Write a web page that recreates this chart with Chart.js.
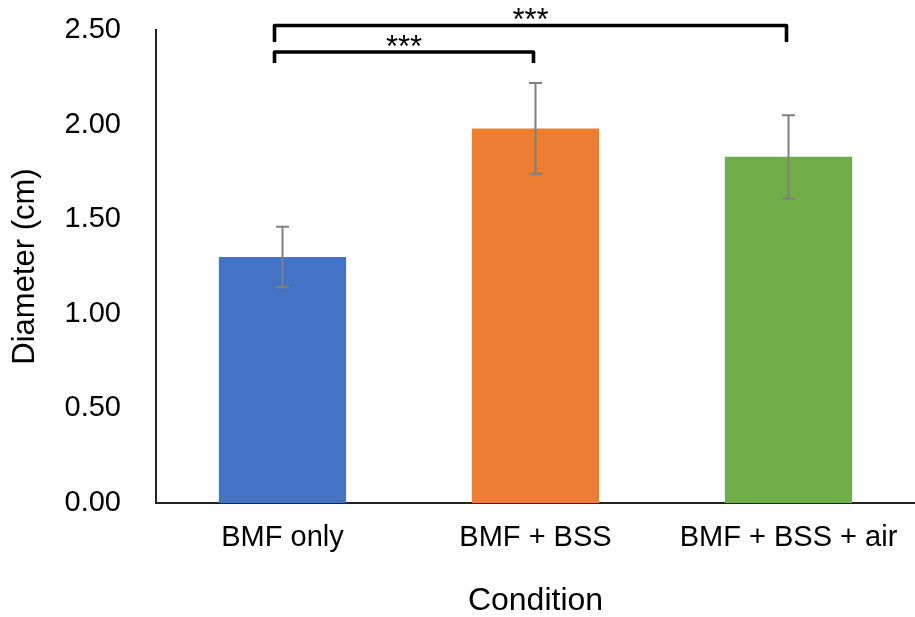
<!DOCTYPE html>
<html>
<head>
<meta charset="utf-8">
<script src="https://cdn.jsdelivr.net/npm/chart.js@4.4.1/dist/chart.umd.min.js"></script>
<style>
  html, body { margin: 0; padding: 0; background: #fff; overflow: hidden; }
  #wrap { width: 915px; height: 617px; position: relative; }
</style>
</head>
<body>
<div id="wrap"><canvas id="c" width="915" height="617"></canvas></div>
<script>
// ---- data ----
const categories = ['BMF only', 'BMF + BSS', 'BMF + BSS + air'];
const means = [1.30, 1.98, 1.83];
const errors = [0.16, 0.24, 0.22];
const barColors = ['#4472C4', '#ED7D31', '#70AD47'];
const yTicks = [0, 0.5, 1.0, 1.5, 2.0, 2.5];
// significance brackets: [fromIndex, toIndex]
const bracketPairs = [[0, 1], [0, 2]];
const bracketTops = [2.384, 2.524];
const bracketLegs = [2.326, 2.437];
const bracketLabels = ['***', '***'];

const FONT = "'Liberation Sans', Arial, Helvetica, sans-serif";
Chart.defaults.font.family = FONT;
Chart.defaults.color = '#000';

const errorBarPlugin = {
  id: 'errorBars',
  afterDatasetsDraw(chart) {
    const ctx = chart.ctx;
    const meta = chart.getDatasetMeta(0);
    const y = chart.scales.y;
    ctx.save();
    ctx.strokeStyle = '#808080';
    ctx.lineWidth = 2;
    meta.data.forEach((bar, i) => {
      const x = bar.x;
      const yt = y.getPixelForValue(means[i] + errors[i]);
      const yb = y.getPixelForValue(means[i] - errors[i]);
      const cap = 6.5;
      ctx.beginPath();
      ctx.moveTo(x, yt); ctx.lineTo(x, yb);
      ctx.moveTo(x - cap, yt); ctx.lineTo(x + cap, yt);
      ctx.moveTo(x - cap, yb); ctx.lineTo(x + cap, yb);
      ctx.stroke();
    });
    ctx.restore();
  }
};

const bracketPlugin = {
  id: 'brackets',
  afterDraw(chart) {
    const ctx = chart.ctx;
    const xs = chart.scales.x, ys = chart.scales.y;
    ctx.save();
    ctx.strokeStyle = '#000';
    ctx.lineWidth = 3.6;
    ctx.lineJoin = 'round';
    ctx.lineCap = 'butt';
    bracketPairs.forEach((p, k) => {
      const x1 = xs.getPixelForValue(p[0]) - 8;
      const x2 = xs.getPixelForValue(p[1]) - 2;
      const yt = ys.getPixelForValue(bracketTops[k]);
      const yl = ys.getPixelForValue(bracketLegs[k]);
      ctx.beginPath();
      ctx.moveTo(x1, yl); ctx.lineTo(x1, yt); ctx.lineTo(x2, yt); ctx.lineTo(x2, yl);
      ctx.stroke();
      ctx.fillStyle = '#000';
      ctx.font = '31px ' + FONT;
      ctx.textAlign = 'center';
      ctx.textBaseline = 'alphabetic';
      ctx.fillText(bracketLabels[k], (x1 + x2) / 2, yt + 5);
    });
    ctx.restore();
  }
};

new Chart(document.getElementById('c'), {
  type: 'bar',
  data: {
    labels: categories,
    datasets: [{
      data: means,
      backgroundColor: barColors,
      borderWidth: 0,
      barPercentage: 0.503,
      categoryPercentage: 1.0
    }]
  },
  options: {
    responsive: false,
    animation: false,
    devicePixelRatio: 1,
    layout: { padding: { top: 30, right: -2, left: 0, bottom: 0 } },
    plugins: { legend: { display: false }, tooltip: { enabled: false } },
    scales: {
      x: {
        grid: { display: false, drawTicks: false },
        border: { display: true, color: '#222', width: 2 },
        ticks: { font: { size: 29 }, color: '#000', padding: 18, maxRotation: 0 },
        title: { display: true, text: 'Condition', font: { size: 32 }, color: '#000', padding: { top: 0, bottom: -3 } },
        afterFit(s) { s.height = 114; s.paddingLeft = 0; s.paddingRight = 0; }
      },
      y: {
        min: 0, max: 2.5,
        afterBuildTicks(s) { s.ticks = yTicks.map(v => ({ value: v })); },
        grid: { display: false, drawTicks: false },
        border: { display: true, color: '#222', width: 2 },
        ticks: { font: { size: 29 }, color: '#000', padding: 35, callback: v => Number(v).toFixed(2) },
        title: { display: true, text: 'Diameter (cm)', font: { size: 31 }, color: '#000', padding: { top: 7, bottom: 0 } },
        afterFit(s) { s.width = 156; s.paddingTop = 0; s.paddingBottom = 0; }
      }
    }
  },
  plugins: [errorBarPlugin, bracketPlugin]
});
</script>
</body>
</html>
